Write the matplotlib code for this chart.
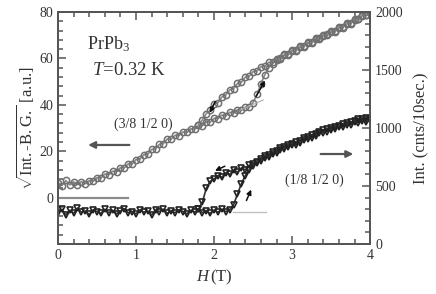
import numpy as np
import matplotlib
matplotlib.use("Agg")
import matplotlib.pyplot as plt
from matplotlib.ticker import MultipleLocator

plt.rcParams['font.family'] = 'Liberation Serif'
plt.rcParams['mathtext.fontset'] = 'custom'
plt.rcParams['mathtext.rm'] = 'Liberation Serif'
plt.rcParams['mathtext.it'] = 'Liberation Serif:italic'

# (3/8 1/2 0): sqrt(Int.-B.G.), field up sweep 0 -> 4 T (0.05 T steps)
H_up = np.linspace(0, 4, 81)
a_up = [6.5, 5.2, 7.4, 5.5, 6.8, 5.6, 6.9, 6.0, 7.3, 7.1, 8.6, 8.4, 10.2, 9.9,
        11.4, 11.2, 12.9, 12.8, 14.6, 14.5, 16.4, 16.6, 18.5, 18.7, 20.8, 21.0,
        23.0, 23.3, 25.3, 25.2, 26.9, 26.7, 28.3, 28.1, 29.7, 29.5, 31.1, 31.0,
        32.8, 32.5, 34.2, 34.1, 35.6, 35.2, 36.8, 36.5, 37.9, 37.6, 39.0, 38.9,
        41.0, 44.5, 49.0, 53.0, 56.0, 57.8, 59.3, 59.7, 61.4, 61.6, 63.2, 63.3,
        64.9, 65.0, 66.6, 66.7, 68.2, 68.3, 69.8, 69.9, 71.4, 71.5, 73.2, 73.3,
        75.0, 75.0, 76.7, 76.8, 78.5, 78.6, 79.8]
# down sweep 4 -> 1.8 T (stored in ascending field)
H_dn = np.linspace(1.8, 4, 45)
a_dn = [31.5, 33.5, 36.2, 37.6, 40.4, 41.0, 43.4, 44.2, 46.4, 47.0, 49.2, 49.8,
        51.9, 52.3, 54.3, 54.6, 56.4, 56.6, 58.3, 58.3, 59.9, 60.0, 61.8, 61.9,
        63.6, 63.6, 65.3, 65.3, 67.0, 67.0, 68.7, 68.7, 70.3, 70.4, 72.0, 72.0,
        73.7, 73.7, 75.4, 75.4, 77.1, 77.1, 78.8, 78.8, 80.0]

# (1/8 1/2 0): Int. (cnts/10sec.)
b_up = [270, 300, 250, 290, 265, 310, 275, 285, 255, 295, 280, 265, 300, 270,
        290, 260, 285, 305, 270, 280, 260, 295, 275, 285, 250, 290, 280, 300,
        265, 285, 270, 295, 280, 260, 290, 275, 300, 270, 285, 265, 290, 275,
        300, 280, 295, 340, 430, 520, 590, 640, 690, 700, 735, 740, 770, 775,
        800, 810, 840, 835, 865, 855, 890, 900, 920, 915, 950, 960, 985, 970,
        1000, 995, 1020, 1010, 1040, 1030, 1060, 1045, 1080, 1050, 1070]
b_dn = [300, 360, 480, 540, 560, 590, 575, 615, 600, 635, 620, 655, 640, 680,
        670, 710, 715, 755, 750, 790, 785, 825, 820, 855, 850, 880, 875, 910,
        905, 940, 935, 965, 960, 995, 985, 1010, 1005, 1035, 1025, 1055, 1050,
        1075, 1060, 1090, 1075]

fig = plt.figure(figsize=(4.36, 2.94), dpi=100)
ax = fig.add_axes([0.133, 0.170, 0.716, 0.789])
ax2 = ax.twinx()

sc = '#555555'
tc = '#333333'

for h, v in ((H_up, a_up), (H_dn, a_dn)):
    ax.plot(h, v, '-', color='#8a8a8a', lw=1.2)
    ax.plot(h, v, 'o', ms=4.5, mfc='none', mec='#707070', mew=1.1)
ax.plot([0, 0.9], [0, 0], color='#8c8c8c', lw=1.6)
ax.plot([2.34, 2.63], [37.8, 42.1], color='#b0b0b0', lw=0.8)

for h, v in ((H_up, b_up), (H_dn, b_dn)):
    ax2.plot(h, v, '-', color='#333333', lw=1.2)
    ax2.plot(h, v, 'v', ms=4.5, mfc='none', mec='#222222', mew=1.2)
ax2.plot([2.24, 2.66], [278, 278], color='#c0c0c0', lw=1.0)

ax.set_xlim(0, 4)
ax.set_ylim(-20, 80)
ax2.set_ylim(0, 2000)
ax.set_xticks([0, 1, 2, 3, 4])
ax.set_yticks([0, 20, 40, 60, 80])
ax2.set_yticks([0, 500, 1000, 1500, 2000])
ax.xaxis.set_minor_locator(MultipleLocator(0.2))
ax.yaxis.set_minor_locator(MultipleLocator(4))
ax2.yaxis.set_minor_locator(MultipleLocator(100))

for a in (ax, ax2):
    for s in a.spines.values():
        s.set_color(sc)
        s.set_linewidth(1.3)
ax.tick_params(axis='x', which='both', direction='in', top=True, colors=sc,
               labelcolor=tc, labelsize=10, width=1.1)
ax.tick_params(axis='y', which='both', direction='in', right=False, colors=sc,
               labelcolor=tc, labelsize=10, width=1.1)
ax2.tick_params(axis='y', which='both', direction='in', colors=sc,
                labelcolor=tc, labelsize=10, width=1.1)
for a in (ax, ax2):
    a.tick_params(which='major', length=6)
    a.tick_params(which='minor', length=3.5)

ax.set_xlabel(r'$H\,$(T)', fontsize=12, color=tc, labelpad=4)
ax.set_ylabel(r'$\sqrt{\mathrm{Int.\text{-}B.G.}}$ [a.u.]', fontsize=12,
              color=tc, labelpad=2)
ax2.set_ylabel('Int. (cnts/10sec.)', fontsize=12, color=tc, labelpad=8)

ax.text(0.37, 66, r'PrPb$_3$', fontsize=13, color=tc, ha='left', va='center')
ax.text(0.44, 55, r'$T$=0.32 K', fontsize=13.5, color=tc, ha='left', va='center')
ax.text(1.09, 31.5, '(3/8 1/2 0)', fontsize=10, color=tc, ha='center', va='center')
ax2.text(3.28, 552, '(1/8 1/2 0)', fontsize=10, color=tc, ha='center', va='center')

big = dict(arrowstyle='-|>', color='#555555', lw=1.6, mutation_scale=10)
ax.annotate('', xy=(0.35, 22.7), xytext=(0.95, 22.7), arrowprops=big)
ax2.annotate('', xy=(3.82, 776), xytext=(3.33, 776), arrowprops=big)

small = dict(arrowstyle='-|>', color='#111111', lw=1.1, mutation_scale=7)
ax.annotate('', xy=(1.93, 35.5), xytext=(2.03, 42.5), arrowprops=small, zorder=5)
ax.annotate('', xy=(2.67, 51.5), xytext=(2.52, 42.5), arrowprops=small, zorder=5)
ax2.annotate('', xy=(1.98, 621), xytext=(2.17, 681), arrowprops=small)
ax2.annotate('', xy=(2.49, 491), xytext=(2.40, 353), arrowprops=small)

fig.savefig('out.png', dpi=100)
